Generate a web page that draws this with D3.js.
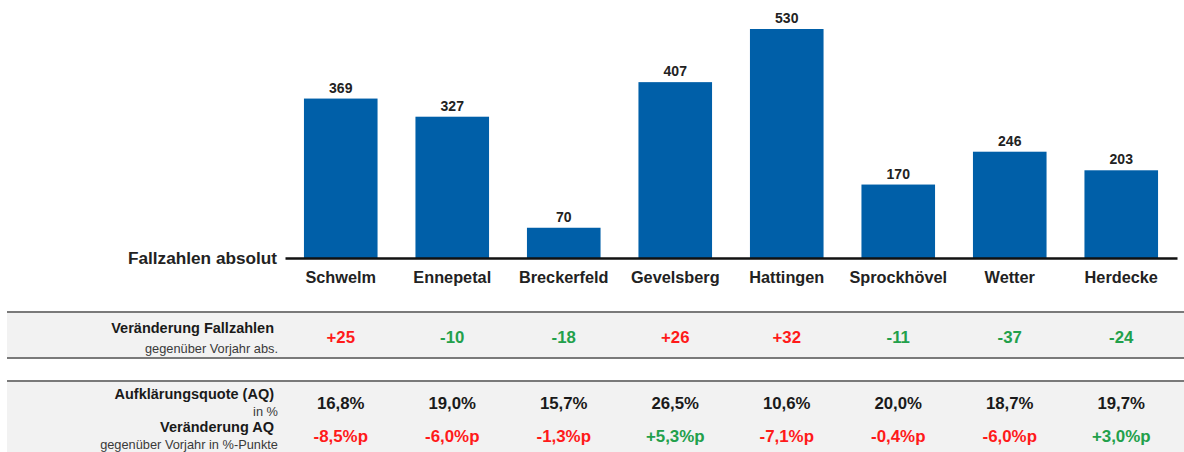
<!DOCTYPE html>
<html>
<head>
<meta charset="utf-8">
<script src="https://cdn.jsdelivr.net/npm/d3@7"></script>
<style>
  body { margin: 0; background: #fff; }
  svg { font-family: "Liberation Sans", Arial, sans-serif; }
</style>
</head>
<body>
<div id="chart"></div>
<script>
// Data
const cities = ["Schwelm", "Ennepetal", "Breckerfeld", "Gevelsberg", "Hattingen", "Sprockhövel", "Wetter", "Herdecke"];
const cases = [369, 327, 70, 407, 530, 170, 246, 203];
const caseChange = [25, -10, -18, 26, 32, -11, -37, -24];
const aqRate = [16.8, 19.0, 15.7, 26.5, 10.6, 20.0, 18.7, 19.7];
const aqChange = [-8.5, -6.0, -1.3, 5.3, -7.1, -0.4, -6.0, 3.0];

const W = 1184, H = 452;
const baseY = 258;
const red = "#ff1a1a", green = "#22a04b";

const svg = d3.select("#chart").append("svg")
  .attr("width", W)
  .attr("height", H);

const x = d3.scaleBand()
  .domain(cities)
  .range([285, 1177])
  .paddingInner(0.34)
  .paddingOuter(0.17);

const y = d3.scaleLinear()
  .domain([0, 530])
  .range([baseY, 29]);

const data = cities.map((c, i) => ({ city: c, v: cases[i] }));

// bars
svg.selectAll(".bar")
  .data(data)
  .enter()
  .append("rect")
  .attr("class", "bar")
  .attr("x", d => x(d.city))
  .attr("y", d => y(d.v))
  .attr("width", x.bandwidth())
  .attr("height", d => baseY - y(d.v))
  .attr("fill", "#005fa8");

// value labels
svg.selectAll(".val")
  .data(data)
  .enter()
  .append("text")
  .attr("x", d => x(d.city) + x.bandwidth() / 2)
  .attr("y", d => y(d.v) - 6)
  .attr("text-anchor", "middle")
  .attr("font-size", 14)
  .attr("font-weight", "bold")
  .attr("fill", "#222")
  .text(d => d.v);

// baseline axis
const xAxis = svg.append("g")
  .attr("transform", `translate(0,${baseY})`)
  .call(d3.axisBottom(x).tickSize(0).tickPadding(13));
xAxis.select(".domain").attr("stroke", "#111").attr("stroke-width", 2.5);
xAxis.selectAll("text")
  .attr("font-size", 16.3)
  .attr("font-weight", "bold")
  .attr("font-family", "Liberation Sans, Arial, sans-serif")
  .attr("fill", "#222");

svg.append("text")
  .attr("x", 277)
  .attr("y", baseY + 6)
  .attr("text-anchor", "end")
  .attr("font-size", 17.2)
  .attr("font-weight", "bold")
  .attr("fill", "#222")
  .text("Fallzahlen absolut");

// table bands
function band(y0, y1) {
  svg.append("rect")
    .attr("x", 7).attr("y", y0)
    .attr("width", W - 7).attr("height", y1 - y0)
    .attr("fill", "#f2f2f2");
  svg.append("line")
    .attr("x1", 7).attr("x2", W).attr("y1", y0).attr("y2", y0)
    .attr("stroke", "#7a7a7a").attr("stroke-width", 2);
  if (y1 < H) {
    svg.append("line")
      .attr("x1", 7).attr("x2", W).attr("y1", y1).attr("y2", y1)
      .attr("stroke", "#7a7a7a").attr("stroke-width", 2);
  }
}
band(312, 358);
band(381, H + 5);

function label(txt, yy, bold) {
  svg.append("text")
    .attr("x", bold ? 274 : 278)
    .attr("y", yy)
    .attr("text-anchor", "end")
    .attr("font-size", bold ? 14.5 : 12.8)
    .attr("font-weight", bold ? "bold" : "normal")
    .attr("fill", bold ? "#1a1a1a" : "#3a3a3a")
    .text(txt);
}
label("Veränderung Fallzahlen", 333, true);
label("gegenüber Vorjahr abs.", 353, false);
label("Aufklärungsquote (AQ)", 399, true);
label("in %", 416, false);
label("Veränderung AQ", 432, true);
label("gegenüber Vorjahr in %-Punkte", 449, false);

const fmt = v => v.toFixed(1).replace(".", ",");
const cx = c => x(c) + x.bandwidth() / 2;

function row(vals, yy, size, textFn, colorFn) {
  svg.append("g").selectAll("text")
    .data(vals)
    .enter()
    .append("text")
    .attr("x", (d, i) => cx(cities[i]))
    .attr("y", yy)
    .attr("text-anchor", "middle")
    .attr("font-size", size)
    .attr("font-weight", "bold")
    .attr("fill", colorFn)
    .text(textFn);
}
row(caseChange, 343, 16.8, d => (d > 0 ? "+" : "") + d, d => d > 0 ? red : green);
row(aqRate, 409, 16.8, d => fmt(d) + "%", () => "#1a1a1a");
row(aqChange, 442, 16.9, d => (d > 0 ? "+" : "") + fmt(d) + "%p", d => d > 0 ? green : red);
</script>
</body>
</html>
